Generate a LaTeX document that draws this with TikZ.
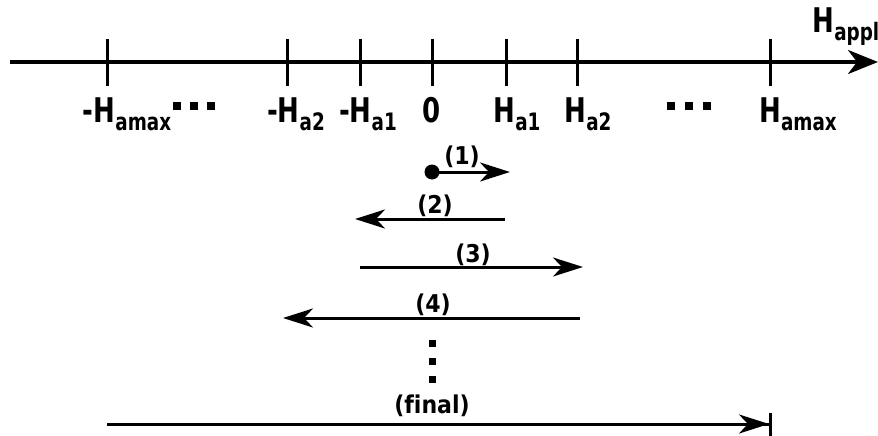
\documentclass[tikz,border=0pt]{standalone}
\usepackage{fontspec}
\setmainfont{DejaVu Sans Condensed}[FakeStretch=0.85]
\newfontfamily\stepfont{DejaVu Sans Condensed}[Ligatures=NoCommon]
\usepackage{tikz}
\usetikzlibrary{arrows.meta,positioning}
\newcommand{\hsub}[2]{#1\raisebox{-8pt}{\fontsize{24}{24}\selectfont #2}}

\begin{document}
\begin{tikzpicture}[x=1pt, y=-1pt, >={Stealth[length=30pt,width=19pt,inset=9pt]}, line width=3pt,
  every node/.style={font=\bfseries\fontsize{34}{34}\selectfont, inner sep=0pt},
  steplabel/.style={font=\stepfont\bfseries\fontsize{24.5}{25}\selectfont, anchor=base},
  ticklabel/.style={anchor=base},
  sqdot/.style={fill, minimum size=8pt, inner sep=0pt},
  vdot/.style={fill, minimum size=7pt, inner sep=0pt}]
\useasboundingbox (0,0) rectangle (878,436);
% field axis
\coordinate (axl) at (10,62);
\coordinate (axr) at (878,62);
\draw[line width=3.5pt,-{Stealth[length=30pt,width=24pt,inset=9pt]}] (axl) -- (axr);
\node[anchor=base west] (happl) at (811,33) {\hsub{H}{appl}};
% ticks
\coordinate (tmax) at (107,62);
\coordinate (tm2) at (287,62);
\coordinate (tm1) at (360,62);
\coordinate (tzero) at (432,62);
\coordinate (tp1) at (506,62);
\coordinate (tp2) at (577,62);
\coordinate (tpmax) at (770,62);
\draw ([yshift=23pt]tmax) -- ([yshift=-24pt]tmax);
\draw ([yshift=23pt]tm2) -- ([yshift=-24pt]tm2);
\draw ([yshift=23pt]tm1) -- ([yshift=-24pt]tm1);
\draw ([yshift=23pt]tzero) -- ([yshift=-24pt]tzero);
\draw ([yshift=23pt]tp1) -- ([yshift=-24pt]tp1);
\draw ([yshift=23pt]tp2) -- ([yshift=-24pt]tp2);
\draw ([yshift=23pt]tpmax) -- ([yshift=-24pt]tpmax);
\node[ticklabel] (lmax) at (127,122) {-\hsub{H}{amax}};
\node[ticklabel] (lm2) at (296,122) {-\hsub{H}{a2}};
\node[ticklabel] (lm1) at (368,122) {-\hsub{H}{a1}};
\node[ticklabel] (lzero) at (432,122) {0};
\node[ticklabel] (lp1) at (517,122) {\hsub{H}{a1}};
\node[ticklabel] (lp2) at (588,122) {\hsub{H}{a2}};
\node[ticklabel] (lpmax) at (798,122) {\hsub{H}{amax}};
% dots on the axis
\node[sqdot] (dl1) at (177,106) {};
\node[sqdot] (dl2) at (194,106) {};
\node[sqdot] (dl3) at (211,106) {};
\node[sqdot] (dr1) at (671,106) {};
\node[sqdot] (dr2) at (689,106) {};
\node[sqdot] (dr3) at (707,106) {};
% field steps
\coordinate (s1) at (432,172);
\coordinate (e1) at (510,172);
\coordinate (s2) at (505,219);
\coordinate (e2) at (355,219);
\coordinate (s3) at (360,267);
\coordinate (e3) at (583,267);
\coordinate (s4) at (580,318);
\coordinate (e4) at (283,318);
\coordinate (sf) at (107,424);
\coordinate (ef) at (772,424);
\fill (s1) circle (7.5pt);
\draw[->] (s1) -- (e1);
\draw[->] (s2) -- (e2);
\draw[->] (s3) -- (e3);
\draw[->] (s4) -- (e4);
\draw[-{Stealth[length=30pt,width=19pt,inset=9pt]Bar[width=23pt]}] (sf) -- (ef);
\node[steplabel] (n1) at (462,164) {(1)};
\node[steplabel] (n2) at (435,213) {(2)};
\node[steplabel] (n3) at (473,262) {(3)};
\node[steplabel] (n4) at (433,312) {(4)};
\node[steplabel] (nf) at (432,413) {(final)};
% vertical dots
\node[vdot] (v1) at (432,343) {};
\node[vdot] (v2) at (432,361) {};
\node[vdot] (v3) at (432,379) {};
\end{tikzpicture}
\end{document}
